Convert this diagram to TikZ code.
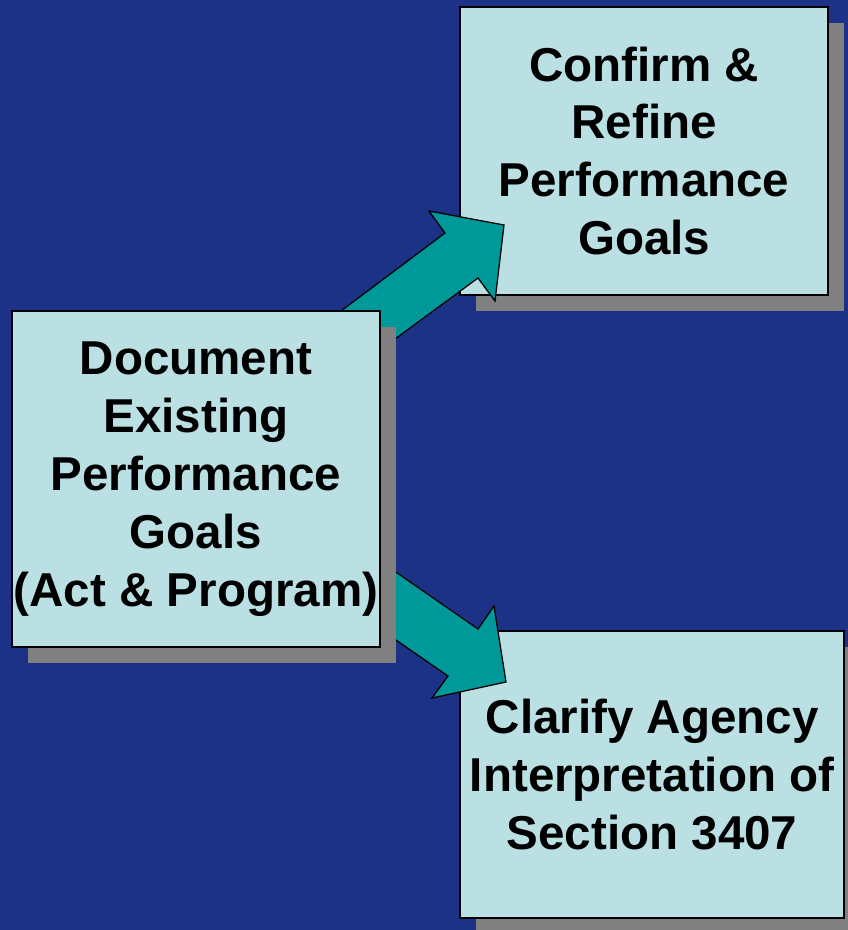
\documentclass[tikz,border=0pt]{standalone}
\usepackage{fontspec}
\setmainfont{Liberation Sans}
\usetikzlibrary{positioning,shadows}
\definecolor{slideblue}{RGB}{28,50,135}
\definecolor{boxcyan}{RGB}{186,224,228}
\definecolor{arrowteal}{RGB}{0,153,153}
\definecolor{shadowgray}{RGB}{128,128,128}
\pgfdeclarelayer{front}
\pgfsetlayers{main,front}

\begin{document}
\begin{tikzpicture}[x=0.025cm, y=-0.025cm]
	\tikzstyle{goalbox} = [rectangle, draw=black, line width=1.3pt, fill=boxcyan, 
	inner sep=0pt, outer sep=0pt, align=center, font=\fontsize{33.8}{41.2}\selectfont\bfseries, 
	drop shadow={shadow xshift=0.4cm, shadow yshift=-0.4cm, fill=shadowgray, opacity=1}]
	\tikzstyle{blockarrow} = [draw=black, line width=0.9pt, fill=arrowteal, line join=miter]
	\useasboundingbox (0,0) rectangle (848,930);
	\fill [slideblue] (0,0) rectangle (848,930);
	\begin{pgfonlayer}{front}
	\node (document) [goalbox, minimum width=9.2cm, minimum height=8.4cm] at (196,479) {Document\\Existing\\Performance\\Goals\\(Act \& Program)};
	\end{pgfonlayer}
	\node (confirm) [goalbox, minimum width=9.2cm, minimum height=7.2cm, above right=0.4cm and 2cm of document] {Confirm \&\\Refine\\Performance\\Goals};
	\node (clarify) [goalbox, minimum width=9.6cm, minimum height=7.175cm, below right=-0.4cm and 2cm of document] {Clarify Agency\\Interpretation of\\Section 3407};
	\draw [blockarrow] (document.center) -- (341,311) -- (445,233) -- (429,211) -- (504,225) -- (495,301) -- (478,278) -- (380,350) -- cycle;
	\draw [blockarrow] (document.center) -- (380,561) -- (478,629) -- (494,606) -- (506,682) -- (432,698) -- (448,676) -- (380,629) -- cycle;
\end{tikzpicture}
\end{document}
